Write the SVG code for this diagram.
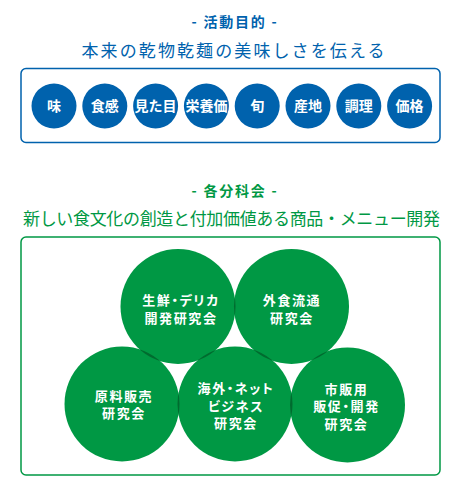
<svg xmlns="http://www.w3.org/2000/svg" width="460" height="490" viewBox="0 0 460 490">
<style>
text{font-family:"Noto Sans CJK JP","Noto Sans",sans-serif;text-anchor:middle}
.blue{fill:#0062ad}
.green{fill:#009844}
.ttl{font-size:14px;font-weight:700;letter-spacing:1.8px}
.sub{font-size:17px}
.bc{fill:#0062ad}
.bt{fill:#fff;font-size:14px;font-weight:700}
.gc{fill:#009844}
.lens{fill:#006b2f}
.gt{fill:#fff;font-size:13px;font-weight:700;letter-spacing:1.6px;font-feature-settings:"palt"}
.box{fill:none;stroke-width:1.5}
</style>
<defs>
<clipPath id="cA"><circle cx="178" cy="306.5" r="57.5"/></clipPath>
<clipPath id="cB"><circle cx="291.5" cy="306.5" r="57.5"/></clipPath>
<clipPath id="cC"><circle cx="122" cy="404" r="57.5"/></clipPath>
<clipPath id="cD"><circle cx="235" cy="404" r="57.5"/></clipPath>
</defs>
<rect width="460" height="490" fill="#fff"/>
<g id="purpose-header">
<text class="blue ttl" x="235" y="27">- 活動目的 -</text>
<text class="blue sub" x="233" y="57" textLength="303" lengthAdjust="spacing">本来の乾物乾麺の美味しさを伝える</text>
<rect class="box" x="21" y="68.5" width="419" height="74" rx="5" stroke="#0062ad"/>
</g>
<g id="n-aji"><circle class="bc" cx="54" cy="106" r="22.5"/><text class="bt" x="54" y="111">味</text></g>
<g id="n-shokkan"><circle class="bc" cx="104.8" cy="106" r="22.5"/><text class="bt" x="104.8" y="111">食感</text></g>
<g id="n-mitame"><circle class="bc" cx="155.6" cy="106" r="22.5"/><text class="bt" x="155.6" y="111">見た目</text></g>
<g id="n-eiyou"><circle class="bc" cx="206.4" cy="106" r="22.5"/><text class="bt" x="206.4" y="111">栄養価</text></g>
<g id="n-shun"><circle class="bc" cx="257.2" cy="106" r="22.5"/><text class="bt" x="257.2" y="111">旬</text></g>
<g id="n-sanchi"><circle class="bc" cx="308" cy="106" r="22.5"/><text class="bt" x="308" y="111">産地</text></g>
<g id="n-chouri"><circle class="bc" cx="358.8" cy="106" r="22.5"/><text class="bt" x="358.8" y="111">調理</text></g>
<g id="n-kakaku"><circle class="bc" cx="409.6" cy="106" r="22.5"/><text class="bt" x="409.6" y="111">価格</text></g>
<g id="section-header">
<text class="green ttl" x="235" y="196">- 各分科会 -</text>
<text class="green sub" x="231.5" y="225" textLength="417" lengthAdjust="spacing">新しい食文化の創造と付加価値ある商品・メニュー開発</text>
<rect class="box" x="21" y="237" width="419" height="238" rx="5" stroke="#009844"/>
</g>
<g id="connectors"></g>
<g id="n-seisen"><circle class="gc" cx="178" cy="306.5" r="57.5"/>
<text class="gt" x="181" y="305">生鮮・デリカ</text>
<text class="gt" x="181" y="322.5">開発研究会</text></g>
<g id="n-gaishoku"><circle class="gc" cx="291.5" cy="306.5" r="57.5"/>
<text class="gt" x="292" y="305">外食流通</text>
<text class="gt" x="292" y="322.5">研究会</text></g>
<g id="n-genryou"><circle class="gc" cx="122" cy="404" r="57.5"/>
<text class="gt" x="124" y="400.5">原料販売</text>
<text class="gt" x="124" y="418">研究会</text></g>
<g id="n-kaigai"><circle class="gc" cx="235" cy="404" r="57.5"/>
<text class="gt" x="236" y="393">海外・ネット</text>
<text class="gt" x="236" y="410.5">ビジネス</text>
<text class="gt" x="236" y="428">研究会</text></g>
<g id="n-shihan"><circle class="gc" cx="347.5" cy="405" r="57.5"/>
<text class="gt" x="346.5" y="393.5">市販用</text>
<text class="gt" x="346.5" y="411">販促・開発</text>
<text class="gt" x="346.5" y="428.5">研究会</text></g>
<g id="overlaps">
<circle class="lens" cx="291.5" cy="306.5" r="57.5" clip-path="url(#cA)"/>
<circle class="lens" cx="122" cy="404" r="57.5" clip-path="url(#cA)"/>
<circle class="lens" cx="235" cy="404" r="57.5" clip-path="url(#cA)"/>
<circle class="lens" cx="235" cy="404" r="57.5" clip-path="url(#cB)"/>
<circle class="lens" cx="347.5" cy="405" r="57.5" clip-path="url(#cB)"/>
<circle class="lens" cx="235" cy="404" r="57.5" clip-path="url(#cC)"/>
<circle class="lens" cx="347.5" cy="405" r="57.5" clip-path="url(#cD)"/>
</g>
</svg>
